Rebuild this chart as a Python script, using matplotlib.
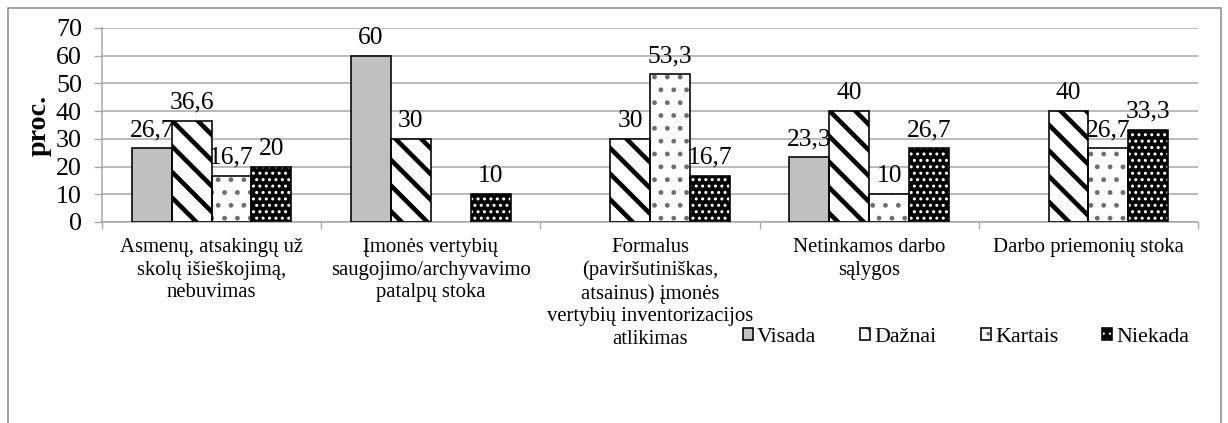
import matplotlib
matplotlib.use("Agg")
import matplotlib.pyplot as plt
from matplotlib.patches import Patch, Rectangle
from matplotlib.legend_handler import HandlerTuple
import numpy as np

# data
categories = [
    "Asmenų, atsakingų už\nskolų išieškojimą,\nnebuvimas",
    "Įmonės vertybių\nsaugojimo/archyvavimo\npatalpų stoka",
    "Formalus\n(paviršutiniškas,\natsainus) įmonės\nvertybių inventorizacijos\natlikimas",
    "Netinkamos darbo\nsąlygos",
    "Darbo priemonių stoka",
]
series_names = ["Visada", "Dažnai", "Kartais", "Niekada"]
visada = [26.7, 60, None, 23.3, None]
daznai = [36.6, 30, 30, 40, 40]
kartais = [16.7, None, 53.3, 10, 26.7]
niekada = [20, 10, 16.7, 26.7, 33.3]
values = [visada, daznai, kartais, niekada]

# dpi chosen so the hatch spacing matches the original Excel patterns
DPI = 77
W, H = 1228, 423


def pt(px):
    # pixel size -> points at this dpi
    return px * 72 / DPI


# face colour, hatch colour, hatch pattern, hatch linewidth (px)
styles = [
    ("#c0c0c0", "#c0c0c0", "", 1.0),
    ("white", "black", "\\", 4.6),
    ("white", "#6e6e6e", ".", 2.2),
    ("black", "white", "..", 1.8),
]

plt.rcParams["font.family"] = ["Liberation Serif", "DejaVu Serif"]

fig = plt.figure(figsize=(W / DPI, H / DPI), dpi=DPI)
ax = fig.add_axes([102 / W, 1 - 222 / H, (1198 - 102) / W, (222 - 28) / H])

x = np.arange(len(categories))
width = 0.182
grid_col = "#a6a6a6"

legend_handles = []
for i, (name, vals) in enumerate(zip(series_names, values)):
    face, hcol, hatch, hlw = styles[i]
    pos = [xp + (i - 1.5) * width for xp, v in zip(x, vals) if v is not None]
    h = [v for v in vals if v is not None]
    with plt.rc_context({"hatch.linewidth": pt(hlw), "hatch.color": hcol}):
        fill = ax.bar(pos, h, width, color=face, edgecolor=hcol, hatch=hatch,
                      linewidth=0, zorder=2)
        for b in fill:
            if hasattr(b, "set_hatch_linewidth"):
                b.set_hatch_linewidth(pt(hlw))
        hp = Patch(facecolor=face, edgecolor=hcol, hatch=hatch, linewidth=0)
        if hasattr(hp, "set_hatch_linewidth"):
            hp.set_hatch_linewidth(pt(min(hlw, 2.5)))
    ax.bar(pos, h, width, facecolor="none", edgecolor="black",
           linewidth=pt(1.6), zorder=3)
    for xp, v in zip(pos, h):
        ax.annotate(f"{v:g}".replace(".", ","), (xp, v), xytext=(0, pt(7)),
                    textcoords="offset points", ha="center", va="bottom",
                    fontsize=pt(25.5), zorder=4)
    ho = Patch(facecolor="none", edgecolor="black", linewidth=pt(1.6))
    legend_handles.append((hp, ho))

ax.set_xlim(-0.5, len(categories) - 0.5)
ax.set_ylim(0, 70)
ax.set_yticks(np.arange(0, 71, 10))
ax.tick_params(axis="y", labelsize=pt(26), length=pt(8), width=pt(1.3),
               color=grid_col, pad=pt(12))
ax.yaxis.grid(True, color=grid_col, linewidth=pt(1.5), zorder=0)
ax.set_axisbelow(True)

ax.set_xticks(x)
ax.set_xticklabels(categories, fontsize=pt(20.8), linespacing=1.25, va="top")
ax.tick_params(axis="x", length=0, pad=pt(16))
ax.set_xticks(np.arange(len(categories) + 1) - 0.5, minor=True)
ax.tick_params(axis="x", which="minor", length=pt(7), width=pt(1.3),
               color=grid_col)

for s in ["top", "right"]:
    ax.spines[s].set_visible(False)
for s in ["left", "bottom"]:
    ax.spines[s].set_color(grid_col)
    ax.spines[s].set_linewidth(pt(1.5))

ax.set_ylabel("proc.", fontsize=pt(28), fontweight="bold", labelpad=pt(4))

fig.legend(legend_handles, series_names, ncol=4, frameon=False,
           loc="center", bbox_to_anchor=(966 / W, 1 - 337 / H),
           fontsize=pt(22), handlelength=0.45, handleheight=0.45,
           handletextpad=0.2, columnspacing=2.0,
           handler_map={tuple: HandlerTuple(ndivide=1, pad=0)})

# outer chart frame (its bottom edge lies below the cropped image)
fig.patches.append(Rectangle((8 / W, -0.2), (1221 - 8) / W, 1.2 - 8 / H,
                             transform=fig.transFigure, fill=False,
                             edgecolor="#868686", linewidth=pt(1.5)))

fig.savefig("out.png", dpi=DPI)
